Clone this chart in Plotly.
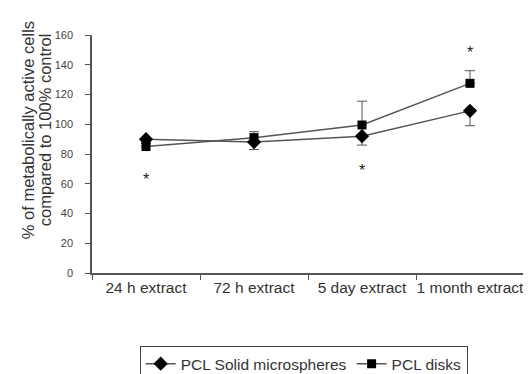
import plotly.graph_objects as go

categories = ["24 h extract", "72 h extract", "5 day extract", "1 month extract"]
microspheres = [90, 88, 92, 109]
microspheres_err_minus = [2, 5, 6, 10]
disks = [85, 91, 99.5, 127.5]
disks_err_plus = [2, 4, 16, 8.5]
star_x = ["24 h extract", "5 day extract", "1 month extract"]
star_y = [63, 69, 148]
y_ticks = [0, 20, 40, 60, 80, 100, 120, 140, 160]
y_title_lines = ["% of metabolically active cells", "compared to 100% control"]

FONT = "Liberation Sans, Arial, sans-serif"
LINE = "#555555"

# page body adds an 8px offset, so the figure is drawn 8px smaller
W, H = 523, 366
L, R, T, B = 84, 7, 27, 101
PW = W - L - R

fig = go.Figure()
fig.add_trace(go.Scatter(
    x=categories, y=microspheres, name="PCL Solid microspheres",
    mode="lines+markers",
    line=dict(color=LINE, width=1.5),
    marker=dict(symbol="diamond", size=11, color="black"),
    error_y=dict(type="data", symmetric=False, array=[0]*4,
                 arrayminus=microspheres_err_minus, color=LINE, thickness=1, width=5),
))
fig.add_trace(go.Scatter(
    x=categories, y=disks, name="PCL disks",
    mode="lines+markers",
    line=dict(color=LINE, width=1.5),
    marker=dict(symbol="square", size=9, color="black"),
    error_y=dict(type="data", symmetric=False, array=disks_err_plus,
                 arrayminus=[0]*4, color=LINE, thickness=1, width=5),
))
for sx, sy in zip(star_x, star_y):
    fig.add_annotation(x=sx, y=sy, text="*", showarrow=False,
                       font=dict(family=FONT, size=16, color="#222"),
                       xanchor="center", yanchor="middle")

for i, line in enumerate(y_title_lines):
    fig.add_annotation(
        xref="paper", yref="paper", x=(20 + 17 * i - L) / PW, y=0.6,
        text=line, textangle=-90, showarrow=False,
        xanchor="center", yanchor="middle",
        font=dict(family=FONT, size=16.5, color="#333"),
    )

fig.update_layout(
    width=W, height=H,
    margin=dict(l=L, r=R, t=T, b=B, autoexpand=False),
    paper_bgcolor="white", plot_bgcolor="white",
    font=dict(family=FONT, color="#333"),
    showlegend=True,
    legend=dict(orientation="h", x=0.49, xanchor="center", y=-0.307, yanchor="top",
                bordercolor="#444", borderwidth=1, font=dict(size=15.5, color="#333"),
                bgcolor="white", itemwidth=30, tracegroupgap=0),
    xaxis=dict(type="category", range=[-0.5, 3.5], showgrid=False, automargin=False,
               showline=True, linecolor=LINE, linewidth=1.5,
               ticks="outside", tickson="boundaries", ticklen=5, tickcolor=LINE,
               tickangle=0, tickfont=dict(size=15.5, color="#333")),
    yaxis=dict(range=[0, 160], tickvals=y_ticks, showgrid=False, zeroline=False,
               automargin=False,
               showline=True, linecolor=LINE, linewidth=1.5,
               ticks="outside", ticklen=5, tickcolor=LINE,
               tickfont=dict(size=11, color="#444"), ticklabelstandoff=10),
)

fig.write_html("out.html")
